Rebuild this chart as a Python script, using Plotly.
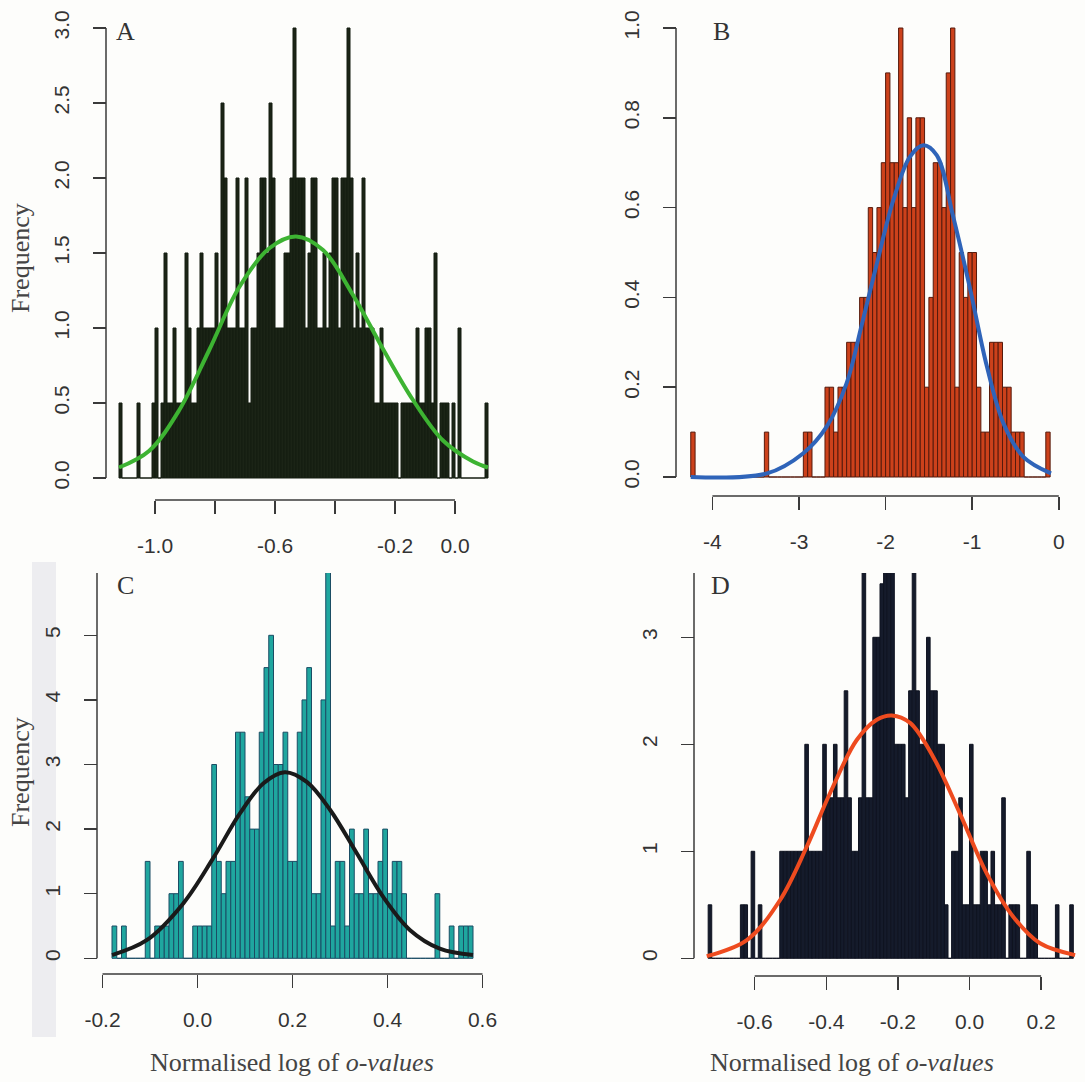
import numpy as np
import plotly.graph_objects as go

W, H = 1085, 1082

# ---------------- data ----------------
# Panel A (bin width 0.01)
a_start, a_width = -1.12, 0.01
a_counts = [0.5, 0, 0, 0, 0, 0, 0.5, 0, 0, 0, 0, 0.5, 1.0, 0, 0.5, 1.5, 0.5, 0.5, 1.0, 0.5,
            0.5, 0.5, 1.5, 1.0, 0.5, 0.5, 1.0, 1.5, 1.0, 1.0, 1.0, 1.0, 1.5, 1.0, 2.5, 2.0, 1.0, 1.0, 1.0, 2.0,
            1.0, 1.0, 2.0, 0.5, 1.0, 1.0, 1.5, 2.0, 2.0, 1.5, 2.5, 2.0, 1.0, 1.0, 1.0, 1.5, 1.5, 2.0, 3.0, 2.0,
            2.0, 2.0, 1.0, 1.5, 2.0, 2.0, 1.0, 1.0, 1.5, 1.0, 1.5, 2.0, 2.0, 1.0, 2.0, 2.0, 3.0, 2.0, 1.0, 1.5,
            1.0, 2.0, 1.0, 1.0, 1.0, 0.5, 0.5, 1.0, 0.5, 0.5, 0.5, 0.5, 0.5, 0, 0.5, 0.5, 0.5, 0.5, 0.5, 1.0,
            0.5, 0.5, 1.0, 1.0, 0.5, 1.5, 0, 0.5, 0.5, 0.5, 0, 0.5, 0, 1.0, 0, 0, 0, 0, 0, 0,
            0, 0, 0.5]
a_curve_x = [-1.12, -1.02, -0.92, -0.82, -0.72, -0.62, -0.53, -0.44, -0.34, -0.24, -0.14, -0.04, 0.06, 0.11]
a_curve_y = [0.07, 0.18, 0.45, 0.85, 1.27, 1.53, 1.61, 1.52, 1.22, 0.86, 0.52, 0.25, 0.11, 0.07]
a_yticks = [0, 0.5, 1.0, 1.5, 2.0, 2.5, 3.0]
a_ytext = ["0.0", "0.5", "1.0", "1.5", "2.0", "2.5", "3.0"]
a_xticks = [-1.0, -0.8, -0.6, -0.4, -0.2, 0.0]
a_xtext = ["-1.0", "", "-0.6", "", "-0.2", "0.0"]

# Panel B (bin width 0.05)
b_start, b_width = -4.25, 0.05
b_counts = [0.1, 0, 0, 0, 0, 0, 0, 0, 0, 0, 0, 0, 0, 0, 0, 0, 0, 0.1, 0, 0,
            0, 0, 0, 0, 0, 0, 0.1, 0.1, 0, 0, 0, 0.2, 0.2, 0.1, 0.2, 0.2, 0.3, 0.3, 0.3, 0.4,
            0.4, 0.6, 0.5, 0.6, 0.7, 0.9, 0.7, 0.7, 1.0, 0.6, 0.8, 0.6, 0.8, 0.8, 0.2, 0.4, 0.7, 0.7, 0.6, 0.9,
            1.0, 0.2, 0.5, 0.4, 0.5, 0.5, 0.2, 0.1, 0.1, 0.3, 0.3, 0.3, 0.2, 0.2, 0.1, 0.1, 0.1, 0, 0, 0,
            0, 0, 0.1]
b_curve_x = [-4.25, -3.37, -2.95, -2.68, -2.45, -2.28, -2.10, -1.91, -1.72, -1.565, -1.41, -1.22, -1.03, -0.83, -0.64, -0.41, -0.09]
b_curve_y = [0.0, 0.008, 0.053, 0.112, 0.209, 0.335, 0.476, 0.617, 0.713, 0.739, 0.717, 0.58, 0.424, 0.246, 0.12, 0.045, 0.008]
b_yticks = [0, 0.2, 0.4, 0.6, 0.8, 1.0]
b_ytext = ["0.0", "0.2", "0.4", "0.6", "0.8", "1.0"]
b_xticks = [-4, -3, -2, -1, 0]
b_xtext = ["-4", "-3", "-2", "-1", "0"]

# Panel C (bin width 0.01)
c_start, c_width = -0.18, 0.01
c_counts = [0.5, 0, 0.5, 0, 0, 0, 0, 1.5, 0, 0.5, 0.5, 0.5, 1.0, 1.0, 1.5, 0, 0, 0.5, 0.5, 0.5,
            0.5, 3.0, 1.5, 1.0, 1.5, 1.5, 3.5, 3.5, 2.5, 2.0, 2.0, 3.5, 4.5, 5.0, 3.0, 3.0, 3.5, 1.5, 1.5, 3.5,
            4.0, 4.5, 1.0, 1.0, 4.0, 6.0, 0.5, 1.5, 1.5, 0.5, 2.0, 1.0, 1.0, 2.0, 1.0, 1.0, 1.5, 2.0, 1.0, 1.5,
            1.5, 1.0, 0, 0, 0, 0, 0, 0, 1.0, 0, 0, 0.5, 0, 0.5, 0.5, 0.5]
c_curve_x = [-0.18, -0.107, -0.03, 0.033, 0.089, 0.139, 0.184, 0.23, 0.279, 0.335, 0.391, 0.447, 0.51, 0.58]
c_curve_y = [0.05, 0.28, 0.85, 1.55, 2.24, 2.71, 2.88, 2.73, 2.3, 1.63, 0.95, 0.44, 0.15, 0.05]
c_yticks = [0, 1, 2, 3, 4, 5]
c_ytext = ["0", "1", "2", "3", "4", "5"]
c_xticks = [-0.2, 0.0, 0.2, 0.4, 0.6]
c_xtext = ["-0.2", "0.0", "0.2", "0.4", "0.6"]

# Panel D (bin width 0.01)
d_start, d_width = -0.73, 0.01
d_counts = [0.5, 0, 0, 0, 0, 0, 0, 0, 0, 0.5, 0.5, 0, 1.0, 0, 0.5, 0, 0, 0, 0, 0,
            1.0, 1.0, 1.0, 1.0, 1.0, 1.0, 1.0, 2.0, 1.0, 1.0, 1.0, 1.0, 2.0, 1.5, 1.5, 2.0, 1.5, 1.5, 2.5, 1.5,
            1.0, 1.0, 1.5, 4.0, 1.5, 1.5, 3.0, 3.0, 3.5, 4.0, 4.0, 4.0, 2.0, 2.0, 2.0, 1.5, 2.5, 4.0, 2.5, 2.0,
            2.0, 3.0, 2.5, 2.5, 2.0, 2.0, 0.5, 0, 1.0, 1.0, 1.5, 0.5, 0.5, 2.0, 0.5, 0.5, 1.0, 1.0, 0.5, 1.0,
            0.5, 0.5, 1.5, 0, 0.5, 0.5, 0.5, 0, 0, 1.0, 0.5, 0.5, 0, 0, 0, 0, 0, 0.5, 0, 0,
            0, 0.5]
d_curve_x = [-0.734, -0.622, -0.529, -0.455, -0.39, -0.315, -0.259, -0.217, -0.166, -0.101, -0.027, 0.048, 0.122, 0.197, 0.295]
d_curve_y = [0.02, 0.17, 0.545, 1.04, 1.54, 2.04, 2.23, 2.27, 2.2, 1.88, 1.355, 0.794, 0.389, 0.14, 0.03]
d_yticks = [0, 1, 2, 3]
d_ytext = ["0", "1", "2", "3"]
d_xticks = [-0.6, -0.4, -0.2, 0.0, 0.2]
d_xtext = ["-0.6", "-0.4", "-0.2", "0.0", "0.2"]

panel_labels = ["A", "B", "C", "D"]
ylabel = "Frequency"
xlabel = "Normalised log of <i>o-values</i>"

# ---------------- styling / layout (window pixel positions) ----------------
BG = "#fdfdfb"
AXC = "#3a3a3a"
TICKFONT = dict(family="Liberation Sans, Arial, sans-serif", size=21, color="#333333")
SERIF = "Liberation Serif, Times New Roman, serif"


def fx(px):
    return px / W


def fy(py):
    return 1 - py / H


panels = [
    dict(counts=a_counts, start=a_start, width=a_width, fill="#1b2416", edge="#151c10",
         cx=a_curve_x, cy=a_curve_y, ccol="#3db332", yt=a_yticks, ytt=a_ytext, xt=a_xticks, xtt=a_xtext,
         dom_x=(106, 500), dom_y=(20, 496), x0px=455, xs=300, y0px=478, ys=150,
         xaxis_py=500, yaxis_px=106, ytop=3.0),
    dict(counts=b_counts, start=b_start, width=b_width, fill="#cc411b", edge="#561a0c",
         cx=b_curve_x, cy=b_curve_y, ccol="#2f64b9", yt=b_yticks, ytt=b_ytext, xt=b_xticks, xtt=b_xtext,
         dom_x=(676, 1080), dom_y=(20, 492), x0px=1058.8, xs=86.6, y0px=477, ys=449,
         xaxis_py=496, yaxis_px=676, ytop=1.0),
    dict(counts=c_counts, start=c_start, width=c_width, fill="#1fa69f", edge="#1b4d64",
         cx=c_curve_x, cy=c_curve_y, ccol="#1a1a1a", yt=c_yticks, ytt=c_ytext, xt=c_xticks, xtt=c_xtext,
         dom_x=(97, 490), dom_y=(573, 966), x0px=197.5, xs=475, y0px=958.3, ys=64.6,
         xaxis_py=974, yaxis_px=97, ytop=None),
    dict(counts=d_counts, start=d_start, width=d_width, fill="#151b2b", edge="#0f1320",
         cx=d_curve_x, cy=d_curve_y, ccol="#ee4b1f", yt=d_yticks, ytt=d_ytext, xt=d_xticks, xtt=d_xtext,
         dom_x=(694, 1080), dom_y=(573, 972), x0px=969.5, xs=358, y0px=958.3, ys=107,
         xaxis_py=976, yaxis_px=694, ytop=None),
]

fig = go.Figure()
shapes = []
annotations = []
layout_axes = {}

for k, p in enumerate(panels):
    n = "" if k == 0 else str(k + 1)
    xa, ya = "x" + n, "y" + n
    counts = np.array(p["counts"], dtype=float)
    centers = p["start"] + p["width"] * (np.arange(len(counts)) + 0.5)
    fig.add_trace(go.Bar(x=centers, y=counts, width=p["width"], xaxis=xa, yaxis=ya,
                         marker=dict(color=p["fill"], line=dict(color=p["edge"], width=1)),
                         showlegend=False, hoverinfo="skip"))
    fig.add_trace(go.Scatter(x=p["cx"], y=p["cy"], mode="lines", xaxis=xa, yaxis=ya,
                             line=dict(color=p["ccol"], width=4, shape="spline", smoothing=1.0),
                             showlegend=False, hoverinfo="skip"))

    dx0, dx1 = p["dom_x"]
    dy0, dy1 = p["dom_y"]
    xr = [(dx0 - p["x0px"]) / p["xs"], (dx1 - p["x0px"]) / p["xs"]]
    yr = [(p["y0px"] - dy1) / p["ys"], (p["y0px"] - dy0) / p["ys"]]
    layout_axes["xaxis" + n] = dict(
        domain=[fx(dx0), fx(dx1)], range=xr, anchor="free", position=fy(p["xaxis_py"]),
        automargin=False, showgrid=False, zeroline=False, showline=False, ticks="outside",
        ticklen=13, tickwidth=1.5, tickcolor=AXC, tickvals=p["xt"], ticktext=p["xtt"],
        tickfont=TICKFONT, ticklabelstandoff=14, fixedrange=True)
    layout_axes["yaxis" + n] = dict(
        domain=[fy(dy1), fy(dy0)], range=yr, anchor="free", position=fx(p["yaxis_px"]),
        automargin=False, showgrid=False, zeroline=False, showline=False, ticks="outside",
        ticklen=13, tickwidth=1.5, tickcolor=AXC, tickvals=p["yt"], ticktext=p["ytt"],
        tickfont=TICKFONT, tickangle=-90, ticklabelstandoff=16, fixedrange=True)

    shapes.append(dict(type="line", xref=xa, yref="paper", x0=p["xt"][0], x1=p["xt"][-1],
                       y0=fy(p["xaxis_py"]), y1=fy(p["xaxis_py"]),
                       line=dict(color=AXC, width=1.5)))
    ytop = p["ytop"] if p["ytop"] is not None else yr[1]
    shapes.append(dict(type="line", xref="paper", yref=ya, x0=fx(p["yaxis_px"]), x1=fx(p["yaxis_px"]),
                       y0=0, y1=ytop, line=dict(color=AXC, width=1.5)))

shapes.insert(0, dict(type="rect", xref="paper", yref="paper", x0=fx(32), x1=fx(56),
                      y0=fy(1037), y1=fy(562), line=dict(width=0),
                      fillcolor="rgba(205,205,220,0.35)", layer="below"))

for lab, (px, py) in zip(panel_labels, [(125, 31), (721, 31), (125, 585), (720, 585)]):
    annotations.append(dict(text=lab, x=fx(px), y=fy(py), xref="paper", yref="paper",
                            xanchor="center", yanchor="middle", showarrow=False,
                            font=dict(family=SERIF, size=26, color="#333333")))
for py in [258, 772]:
    annotations.append(dict(text=ylabel, x=fx(20), y=fy(py), xref="paper", yref="paper",
                            xanchor="center", yanchor="middle", showarrow=False, textangle=-90,
                            font=dict(family=SERIF, size=26, color="#444444")))
for px in [292, 852]:
    annotations.append(dict(text=xlabel, x=fx(px), y=fy(1062), xref="paper", yref="paper",
                            xanchor="center", yanchor="middle", showarrow=False,
                            font=dict(family=SERIF, size=26, color="#444444")))

fig.update_layout(width=W, height=H, margin=dict(l=0, r=0, t=0, b=0, autoexpand=False),
                  paper_bgcolor=BG, plot_bgcolor=BG, bargap=0, barmode="overlay",
                  showlegend=False, hovermode=False,
                  shapes=shapes, annotations=annotations, **layout_axes)

# remove the default page margin so the figure starts at the window corner
fig.write_html("out.html", config={"displayModeBar": False, "staticPlot": True},
               post_script="document.body.style.margin='0px';document.body.style.overflow='hidden';")
